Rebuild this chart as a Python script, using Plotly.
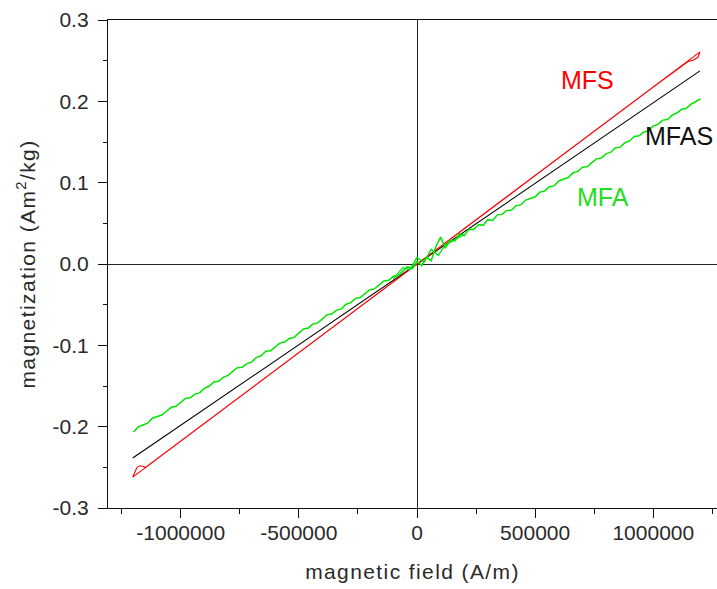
import plotly.graph_objects as go

# Hysteresis loops: applied field H (A/m) vs mass magnetization (Am^2/kg)

# MFS (red): rising branch, then falling branch with small end loops
mfs_h = [-1203000, -1000000, -500000, 0, 500000, 1000000, 1197600,
         1189000, 1168000, 1147000, 1000000, 500000, 0, -500000, -1000000,
         -1149000, -1157000, -1172000, -1185000, -1193000, -1203000]
mfs_m = [-0.2620, -0.2178, -0.1089, 0.0000, 0.1089, 0.2178, 0.2608,
         0.2542, 0.2506, 0.2490, 0.2175, 0.1086, -0.0003, -0.1092, -0.2181,
         -0.2502, -0.2490, -0.2480, -0.2500, -0.2550, -0.2620]

# MFAS (black)
mfas_h = [-1203000, -600000, 0, 600000, 1197600]
mfas_m = [-0.2386, -0.1190, 0.0000, 0.1190, 0.2374]

# MFA (green): noisy measurement, 20 kA/m steps
mfa_h = [-1200000 + 20000 * i for i in range(121)]
mfa_m = [
    -0.2066, -0.2003, -0.1980, -0.1957, -0.1896, -0.1875, -0.1857, -0.1811,
    -0.1762, -0.1749, -0.1701, -0.1654, -0.1645, -0.1600, -0.1585, -0.1528,
    -0.1503, -0.1451, -0.1442, -0.1394, -0.1370, -0.1317, -0.1276, -0.1269,
    -0.1225, -0.1206, -0.1150, -0.1128, -0.1073, -0.1067, -0.1021, -0.0973,
    -0.0960, -0.0915, -0.0900, -0.0843, -0.0798, -0.0786, -0.0737, -0.0724,
    -0.0675, -0.0624, -0.0613, -0.0567, -0.0552, -0.0495, -0.0475, -0.0423,
    -0.0413, -0.0366, -0.0317, -0.0306, -0.0258, -0.0209, -0.0201, -0.0150,
    -0.0145, -0.0085, -0.0033, -0.0058, 0.0032, -0.0020, 0.0085, 0.0040,
    0.0215, 0.0330, 0.0195, 0.0290, 0.0282, 0.0372, 0.0348, 0.0426,
    0.0424, 0.0482, 0.0478, 0.0545, 0.0535, 0.0604, 0.0610, 0.0658,
    0.0663, 0.0718, 0.0727, 0.0786, 0.0807, 0.0826, 0.0884, 0.0898,
    0.0949, 0.0960, 0.1021, 0.1038, 0.1063, 0.1119, 0.1138, 0.1189,
    0.1195, 0.1247, 0.1293, 0.1303, 0.1354, 0.1375, 0.1430, 0.1436,
    0.1491, 0.1513, 0.1567, 0.1576, 0.1623, 0.1637, 0.1698, 0.1717,
    0.1769, 0.1777, 0.1830, 0.1856, 0.1902, 0.1915, 0.1966, 0.1998,
    0.2030,
]

# MFA return sweep through the low-field region
mfa_ret_h = [200000, 160000, 120000, 90000, 60000, 30000, 0, -30000, -60000, -100000]
mfa_ret_m = [0.0365, 0.0300, 0.0235, 0.0105, 0.0180, 0.0020, 0.0080, -0.0070, -0.0045, -0.0180]

x_ticks = [-1000000, -500000, 0, 500000, 1000000]
x_labels = ["-1000000", "-500000", "0", "500000", "1000000"]
y_ticks = [-0.3, -0.2, -0.1, 0.0, 0.1, 0.2, 0.3]
y_labels = ["-0.3", "-0.2", "-0.1", "0.0", "0.1", "0.2", "0.3"]

x_title = "magnetic field (A/m)"
y_title = "magnetization (Am<sup>2</sup>/kg)"

RED = "#FF0000"
BLACK = "#000000"
GREEN = "#00E600"
FONT = "Liberation Sans, Arial, sans-serif"
TEXT = "#2a2a2a"


def spaced(s):
    return '<span style="letter-spacing:1.4px">' + s + "</span>"


fig = go.Figure()
fig.add_trace(go.Scatter(x=mfas_h, y=mfas_m, mode="lines", name="MFAS",
                         line=dict(color=BLACK, width=1.1)))
fig.add_trace(go.Scatter(x=mfs_h, y=mfs_m, mode="lines", name="MFS",
                         line=dict(color=RED, width=1.1)))
fig.add_trace(go.Scatter(x=mfa_h, y=mfa_m, mode="lines", name="MFA",
                         line=dict(color=GREEN, width=1.5)))
fig.add_trace(go.Scatter(x=mfa_ret_h, y=mfa_ret_m, mode="lines", name="MFA return",
                         line=dict(color=GREEN, width=1.3)))

axis_common = dict(
    showgrid=False,
    showline=True,
    linecolor="#111111",
    linewidth=1.3,
    ticks="outside",
    tickcolor="#111111",
    tickwidth=1.2,
    ticklen=9,
    zeroline=True,
    zerolinecolor="#222222",
    zerolinewidth=1,
    tickfont=dict(family=FONT, size=21, color=TEXT),
)

fig.update_xaxes(
    **axis_common,
    range=[-1307700, 1269600],
    tickmode="array", tickvals=x_ticks, ticktext=x_labels,
    mirror=True,
    ticklabelstandoff=-3,
    minor=dict(ticks="outside", ticklen=5, tick0=0, dtick=250000,
               tickcolor="#111111", tickwidth=1.2, showgrid=False),
    title=dict(text=spaced(x_title), standoff=20,
               font=dict(family=FONT, size=21, color=TEXT)),
)
fig.update_yaxes(
    **axis_common,
    range=[-0.3, 0.3],
    tickmode="array", tickvals=y_ticks, ticktext=y_labels,
    mirror=False,
    ticklabelstandoff=5,
    minor=dict(ticks="outside", ticklen=4, tick0=0, dtick=0.05,
               tickcolor="#111111", tickwidth=1.2, showgrid=False),
    title=dict(text=spaced(y_title), standoff=11,
               font=dict(family=FONT, size=21, color=TEXT)),
)

labels = [
    dict(text="MFS", x=0.788, y=0.877, color=RED),
    dict(text="MFAS", x=0.937, y=0.763, color="#111111"),
    dict(text="MFA", x=0.813, y=0.637, color="#22DD22"),
]
for a in labels:
    fig.add_annotation(text=a["text"], x=a["x"], y=a["y"], xref="paper", yref="paper",
                       xanchor="center", yanchor="middle", showarrow=False,
                       font=dict(family=FONT, size=25, color=a["color"]))

fig.update_layout(
    width=717, height=589,
    margin=dict(l=108, r=0, t=20, b=81),
    paper_bgcolor="white", plot_bgcolor="white",
    showlegend=False,
)

fig.write_html("out.html")
